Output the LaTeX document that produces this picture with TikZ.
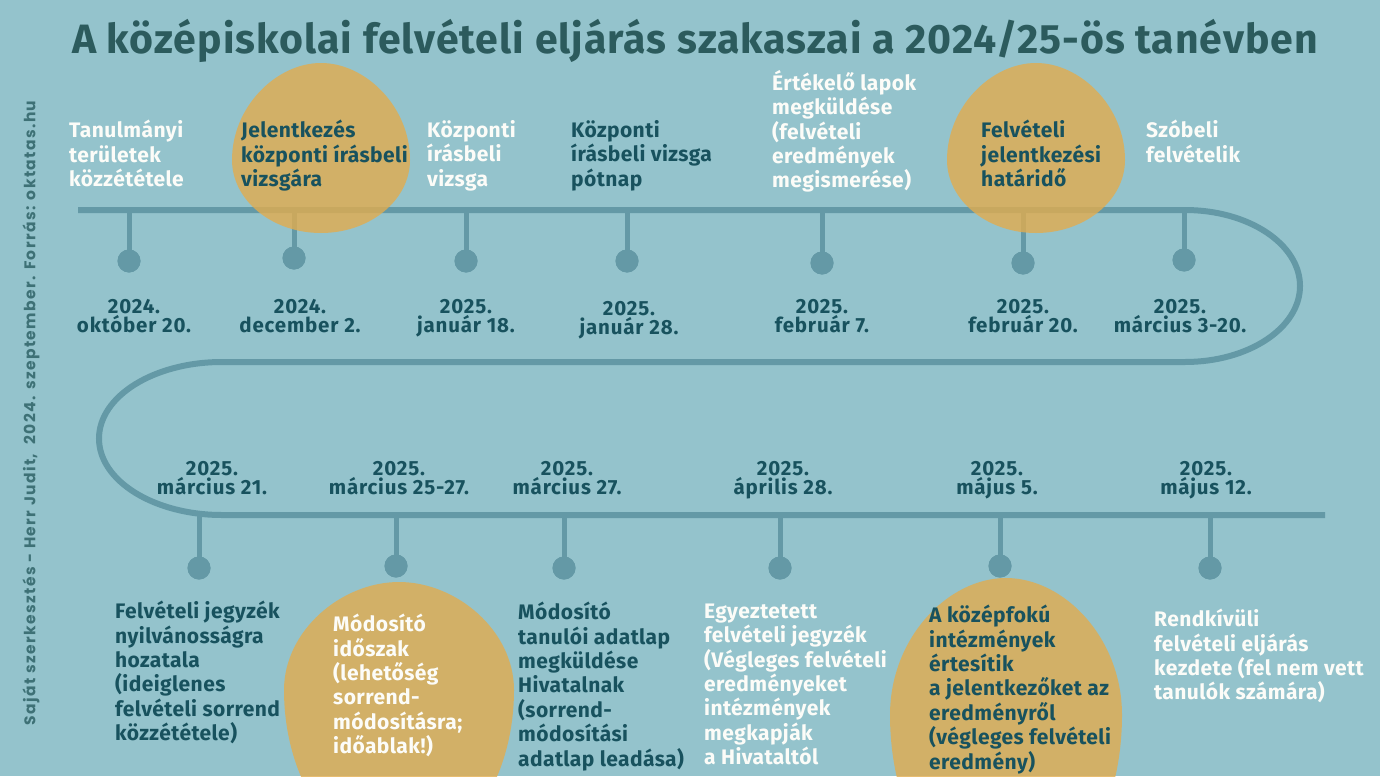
\documentclass[tikz,border=0pt]{standalone}
\usepackage{fontspec}
\setmainfont{Fira Sans}
\newfontfamily\sidefont{Poppins}
\definecolor{bgc}{RGB}{148,195,204}
\definecolor{linec}{RGB}{100,153,166}
\definecolor{darkc}{RGB}{24,82,94}
\definecolor{titlec}{RGB}{44,91,93}
\definecolor{goldc}{RGB}{226,172,78}
\definecolor{whitec}{RGB}{252,252,248}
\definecolor{sidec}{RGB}{62,113,118}
\newcommand\mstrut{\rule{0pt}{16pt}}
\newcommand\dstrut{\rule{0pt}{15pt}}
\begin{document}
\begin{tikzpicture}[x=1pt,y=-1pt,
  tl/.style={line width=6pt, draw=linec},
  stemline/.style={line width=5pt, draw=linec},
  dotn/.style={circle, fill=linec, minimum size=23pt, inner sep=0pt},
  blob/.style={fill=goldc, fill opacity=0.8},
  evt/.style={anchor=north west, inner sep=0pt, align=left, font=\bfseries\fontsize{21}{24.4}\selectfont\addfontfeature{LetterSpace=2}},
  evtw/.style={evt, text=whitec},
  evtd/.style={evt, text=darkc},
  datel/.style={anchor=north, inner sep=0pt, align=center, text=darkc, font=\bfseries\fontsize{20.5}{19.5}\selectfont\addfontfeature{LetterSpace=4}}]
\clip (0,0) rectangle (1380,776);
\fill[bgc] (0,0) rectangle (1380,776);

% timeline
\coordinate (ltop) at (78,210);
\coordinate (lbot) at (222,515);
\draw[tl] (ltop) -- (1185,210) .. controls (1248.5,210) and (1300,244) .. (1300,286)
  .. controls (1300,328) and (1248.5,362) .. (1185,362) -- (222,362)
  .. controls (154,362) and (99,396.2) .. (99,438.5)
  .. controls (99,480.8) and (154,515) .. (lbot) -- (1325,515);

% dots (positions)
\node[dotn] (d1) at (129,261) {};
\node[dotn] (d2) at (294,258) {};
\node[dotn] (d3) at (466,261) {};
\node[dotn] (d4) at (627,261) {};
\node[dotn] (d5) at (822,263) {};
\node[dotn] (d6) at (1023,263) {};
\node[dotn] (d7) at (1184,260) {};
\node[dotn] (g1) at (199,568) {};
\node[dotn] (g2) at (396,566) {};
\node[dotn] (g3) at (564,568) {};
\node[dotn] (g4) at (780,568) {};
\node[dotn] (g5) at (1000,566) {};
\node[dotn] (g6) at (1210,568) {};

% stems
\foreach \d in {d1,d2,d3,d4,d5,d6,d7} \draw[stemline] (\d |- ltop) -- (\d.center);
\foreach \d in {g1,g2,g3,g4,g5,g6} \draw[stemline] (\d |- lbot) -- (\d.center);

% blobs
\fill[blob] (321,63) .. controls (365.5,63) and (410,106.6) .. (410,160) .. controls (410,200.2) and (370,233) .. (321,233) .. controls (272,233) and (232,200.2) .. (232,160) .. controls (232,106.6) and (276.5,63) .. (321,63) -- cycle;
\fill[blob] (1036,63) .. controls (1080.5,63) and (1125,106.6) .. (1125,160) .. controls (1125,200.2) and (1085,233) .. (1036,233) .. controls (987,233) and (947,200.2) .. (947,160) .. controls (947,106.6) and (991.5,63) .. (1036,63) -- cycle;
\fill[blob] (399,582) .. controls (456.5,582) and (514,630.6) .. (514,690) .. controls (514,781.3) and (462.3,856) .. (399,856) .. controls (335.7,856) and (284,781.3) .. (284,690) .. controls (284,630.6) and (341.5,582) .. (399,582) -- cycle;
\fill[blob] (1006,578) .. controls (1064,578) and (1122,638) .. (1122,715) .. controls (1122,816.8) and (1069.8,900) .. (1006,900) .. controls (942.2,900) and (890,816.8) .. (890,715) .. controls (890,638) and (948,578) .. (1006,578) -- cycle;

% redraw dots over blobs
\foreach \d in {d1,d2,d3,d4,d5,d6,d7,g1,g2,g3,g4,g5,g6} \fill[linec] (\d) circle[radius=11.5pt];

% title
\node[anchor=base, inner sep=0pt, text=titlec, font=\bfseries\fontsize{41}{44}\selectfont\addfontfeature{LetterSpace=2.4}] (title) at (695,54) {A középiskolai felvételi eljárás szakaszai a 2024/25-ös tanévben};

% side text
\node[rotate=90, inner sep=0pt, text=sidec, font=\sidefont\bfseries\fontsize{15.5}{17}\selectfont\addfontfeature{LetterSpace=9}] (side) at (31,413) {Saját szerkesztés - Herr Judit,\ \ 2024. szeptember. Forrás: oktatas.hu};

% top events
\node[evtw] (e1) at (69,120) {\mstrut Tanulmányi\\területek\\közzététele};
\node[evtd] (e2) at (241,120) {\mstrut Jelentkezés\\központi írásbeli\\vizsgára};
\node[evtw] (e3) at (427,120) {\mstrut Központi\\írásbeli\\vizsga};
\node[evtd] (e4) at (571,120) {\mstrut Központi\\írásbeli vizsga\\pótnap};
\node[evtw] (e5) at (772,70) {\mstrut Értékelő lapok\\megküldése\\(felvételi\\eredmények\\megismerése)};
\node[evtd] (e6) at (981,120) {\mstrut Felvételi\\jelentkezési\\határidő};
\node[evtw] (e7) at (1146,120) {\mstrut Szóbeli\\felvételik};

% top dates
\node[datel] (t1) at (134,298) {\dstrut 2024.\\október 20.};
\node[datel] (t2) at (300,298) {\dstrut 2024.\\december 2.};
\node[datel] (t3) at (466,298) {\dstrut 2025.\\január 18.};
\node[datel] (t4) at (629,300) {\dstrut 2025.\\január 28.};
\node[datel] (t5) at (822,298) {\dstrut 2025.\\február 7.};
\node[datel] (t6) at (1023,298) {\dstrut 2025.\\február 20.};
\node[datel] (t7) at (1180,298) {\dstrut 2025.\\március 3-20.};

% bottom dates
\node[datel] (s1) at (212,460) {\dstrut 2025.\\március 21.};
\node[datel] (s2) at (399,460) {\dstrut 2025.\\március 25-27.};
\node[datel] (s3) at (567,460) {\dstrut 2025.\\március 27.};
\node[datel] (s4) at (783,460) {\dstrut 2025.\\április 28.};
\node[datel] (s5) at (997,460) {\dstrut 2025.\\május 5.};
\node[datel] (s6) at (1206,460) {\dstrut 2025.\\május 12.};

% bottom events
\node[evtd] (b1) at (115,601) {\mstrut Felvételi jegyzék\\nyilvánosságra\\hozatala\\(ideiglenes\\felvételi sorrend\\közzététele)};
\node[evtw] (b2) at (333,614) {\mstrut Módosító\\időszak\\(lehetőség\\sorrend-\\módosításra;\\időablak!)};
\node[evtd] (b3) at (518,602) {\mstrut Módosító\\tanulói adatlap\\megküldése\\Hivatalnak\\(sorrend-\\módosítási\\adatlap leadása)};
\node[evtw] (b4) at (704,602) {\mstrut Egyeztetett\\felvételi jegyzék\\(Végleges felvételi\\eredményeket\\intézmények\\megkapják\\a Hivataltól};
\node[evtd] (b5) at (929,605) {\mstrut A középfokú\\intézmények\\értesítik\\a jelentkezőket az\\eredményről\\(végleges felvételi\\eredmény)};
\node[evtw] (b6) at (1154,609) {\mstrut Rendkívüli\\felvételi eljárás\\kezdete (fel nem vett\\tanulók számára)};
\end{tikzpicture}
\end{document}
